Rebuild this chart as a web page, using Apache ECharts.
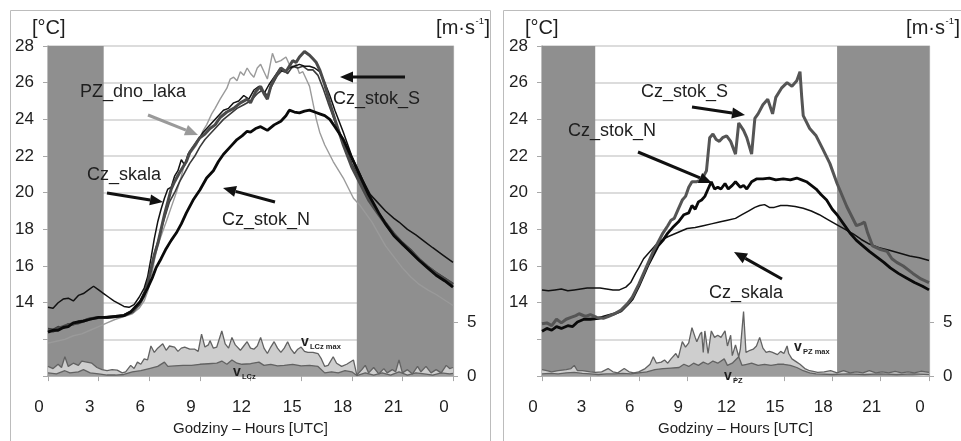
<!DOCTYPE html>
<html><head><meta charset="utf-8">
<script src="https://cdn.jsdelivr.net/npm/echarts@6/dist/echarts.min.js"></script>
<style>html,body{margin:0;padding:0;background:#fff}#c{width:961px;height:441px}</style>
</head><body><div id="c"></div>
<script>
// ---------- tick labels / categories ----------
const hourTickLabels = ['0','3','6','9','12','15','18','21','0'];
const tempTickLabels = ['14','16','18','20','22','24','26','28'];
const windTickValues = [0, 5];
const nightBands = [[0, 3.3], [18.3, 24]];

// ---------- LEFT PANEL: temperatures [hour, °C] ----------
const L_PZ_dno_laka = [[0,11.8],[0.5,11.9],[1,12.0],[1.5,12.2],[2,12.3],[2.5,12.5],[3,12.7],[3.5,12.9],[4,13.1],[4.5,13.25],[5,13.4],[5.4,13.7],[5.7,14.1],[5.9,14.6],[6.1,15.3],[6.3,16.3],[6.5,17.1],[6.8,17.9],[7.0,18.4],[7.3,19.2],[7.6,20.0],[7.9,20.9],[8.1,21.6],[8.4,22.1],[8.8,22.6],[9.0,23.0],[9.2,23.4],[9.4,23.7],[9.7,24.3],[9.9,24.6],[10.2,25.1],[10.6,25.7],[10.8,26.2],[11.0,26.3],[11.2,26.1],[11.4,26.6],[11.6,26.4],[11.8,26.8],[12.0,26.5],[12.2,26.3],[12.4,26.8],[12.6,27.0],[12.8,26.6],[13.0,26.2],[13.3,27.6],[13.5,27.1],[13.8,27.2],[14.1,27.4],[14.3,27.0],[14.5,26.8],[14.7,27.0],[14.9,26.5],[15.1,26.6],[15.3,26.2],[15.5,25.8],[15.7,24.9],[15.9,24.0],[16.1,23.3],[16.4,22.6],[16.9,21.7],[17.5,20.8],[18.1,19.7],[18.5,19.3],[19.2,18.4],[20.0,17.1],[20.5,16.5],[21.0,15.9],[21.5,15.4],[22.0,15.0],[22.5,14.7],[23.0,14.45],[23.5,14.15],[24.0,13.85]];
const L_Cz_skala = [[0,13.75],[0.3,13.7],[0.6,14.0],[0.9,14.2],[1.2,14.25],[1.5,14.1],[1.8,14.4],[2.1,14.5],[2.4,14.7],[2.7,14.9],[3.0,14.7],[3.3,14.5],[3.6,14.3],[3.9,14.1],[4.2,13.95],[4.5,13.8],[4.8,13.75],[5.1,13.9],[5.4,14.3],[5.7,14.8],[5.9,15.4],[6.1,16.4],[6.3,17.5],[6.5,18.4],[6.7,19.1],[6.9,19.7],[7.1,20.2],[7.3,20.3],[7.5,20.9],[7.7,21.2],[7.9,21.8],[8.1,21.5],[8.3,22.1],[8.6,22.5],[8.9,22.9],[9.2,23.3],[9.5,23.6],[9.8,23.9],[10.1,24.2],[10.4,24.5],[10.7,24.6],[11.0,24.9],[11.3,25.0],[11.6,25.3],[11.9,25.1],[12.2,25.6],[12.5,25.8],[12.8,25.4],[13.1,25.9],[13.4,26.3],[13.7,26.7],[14.0,26.6],[14.3,26.8],[14.6,26.9],[14.9,27.0],[15.2,26.9],[15.5,26.9],[15.8,26.8],[16.1,26.6],[16.4,26.0],[16.7,25.3],[17.0,24.5],[17.5,23.3],[18.0,22.0],[18.3,21.4],[18.7,20.6],[19.1,19.9],[19.5,19.5],[20.0,19.0],[20.5,18.6],[20.8,18.4],[21.3,18.0],[21.8,17.7],[22.3,17.35],[22.8,17.0],[23.4,16.6],[24.0,16.2]];
const L_Cz_stok_S = [[0,12.5],[0.3,12.45],[0.6,12.6],[0.9,12.7],[1.2,12.8],[1.5,12.85],[1.8,12.9],[2.1,13.0],[2.4,13.1],[2.7,13.15],[3.0,13.2],[3.5,13.2],[4.0,13.25],[4.5,13.3],[5.0,13.5],[5.4,13.9],[5.7,14.4],[5.9,15.0],[6.1,15.8],[6.3,16.6],[6.5,17.2],[6.7,18.0],[6.9,18.8],[7.1,19.5],[7.3,20.2],[7.5,20.6],[7.8,21.1],[8.0,21.4],[8.2,21.7],[8.4,22.2],[8.7,22.6],[9.0,23.0],[9.3,23.2],[9.6,23.5],[9.9,23.7],[10.2,24.1],[10.6,24.4],[11.0,24.6],[11.4,24.9],[11.8,25.1],[12.0,24.9],[12.3,25.5],[12.6,25.8],[12.8,25.4],[13.0,25.1],[13.2,25.8],[13.4,26.2],[13.6,26.5],[13.8,26.8],[14.1,26.6],[14.3,26.9],[14.5,27.2],[14.7,27.1],[14.9,27.4],[15.2,27.7],[15.5,27.5],[15.7,27.3],[15.9,27.1],[16.1,26.7],[16.4,25.9],[16.7,24.9],[17.0,24.0],[17.5,22.6],[18.0,21.4],[18.5,20.5],[19.0,19.6],[19.6,18.8],[20.0,18.3],[20.5,17.7],[21.0,17.2],[21.5,16.8],[22.0,16.35],[22.5,15.95],[23.0,15.6],[23.5,15.3],[24.0,15.0]];
const L_Cz_stok_N = [[0,12.4],[0.3,12.5],[0.6,12.5],[0.9,12.65],[1.2,12.7],[1.5,12.9],[1.8,12.95],[2.1,13.0],[2.5,13.1],[3.0,13.2],[3.5,13.2],[4.0,13.25],[4.5,13.3],[4.9,13.5],[5.2,13.8],[5.5,14.1],[5.9,14.8],[6.2,15.4],[6.4,15.9],[6.7,16.4],[7.0,16.95],[7.3,17.4],[7.6,17.8],[7.9,18.3],[8.2,18.9],[8.6,19.6],[9.0,20.15],[9.4,20.8],[9.8,21.2],[10.1,21.7],[10.4,22.1],[10.8,22.5],[11.2,22.9],[11.5,23.1],[11.8,23.35],[12.0,23.3],[12.3,23.5],[12.6,23.6],[13.0,23.4],[13.4,23.7],[13.8,23.9],[14.1,24.2],[14.3,24.5],[14.6,24.4],[14.9,24.35],[15.2,24.45],[15.5,24.5],[15.8,24.4],[16.1,24.3],[16.4,24.2],[16.7,24.0],[17.0,23.6],[17.5,22.9],[18.0,21.9],[18.5,20.9],[19.0,19.9],[19.6,18.9],[20.0,18.3],[20.5,17.65],[21.0,17.2],[21.5,16.75],[22.0,16.3],[22.5,15.9],[23.0,15.5],[23.5,15.2],[24.0,14.85]];
const L_other = [[0,12.6],[0.3,12.55],[0.6,12.7],[0.9,12.6],[1.2,12.85],[1.5,12.8],[1.8,13.0],[2.1,13.05],[2.5,13.15],[3.0,13.2],[3.5,13.25],[4.0,13.25],[4.5,13.35],[5.0,13.6],[5.4,14.0],[5.7,14.6],[6.0,15.5],[6.2,16.3],[6.4,17.0],[6.6,17.6],[6.8,18.3],[7.0,18.9],[7.2,19.5],[7.5,20.0],[7.8,20.6],[8.1,21.1],[8.4,21.6],[8.7,22.0],[9.0,22.5],[9.3,22.9],[9.6,23.2],[10.0,23.6],[10.4,24.0],[10.8,24.3],[11.2,24.6],[11.6,24.8],[12.0,25.0],[12.4,25.4],[12.7,25.6],[13.0,25.3],[13.3,25.9],[13.6,26.4],[13.9,26.7],[14.2,26.5],[14.5,26.9],[14.8,26.8],[15.1,26.9],[15.4,26.7],[15.7,26.7],[16.0,26.4],[16.3,25.7],[16.6,24.9],[17.0,23.9],[17.5,22.8],[18.0,21.6],[18.5,20.7],[19.0,19.8],[19.6,18.9],[20.0,18.4],[20.5,17.8],[21.0,17.3],[21.5,16.9],[22.0,16.4],[22.5,16.0],[23.0,15.65],[23.5,15.35],[24.0,15.05]];

// ---------- LEFT PANEL: wind [hour, m/s] ----------
const L_vLCz_max = [[0,0.9],[0.3,0.7],[0.6,1.1],[0.8,0.8],[1.0,1.8],[1.2,0.9],[1.5,1.2],[1.8,1.0],[2.0,1.4],[2.3,1.3],[2.6,1.2],[2.9,0.8],[3.2,0.6],[3.5,0.5],[3.8,0.6],[4.1,0.55],[4.4,0.3],[4.6,0.4],[4.9,1.0],[5.1,0.7],[5.3,1.3],[5.5,1.1],[5.7,1.6],[5.9,1.5],[6.1,2.8],[6.3,2.2],[6.5,2.6],[6.8,3.0],[7.0,2.4],[7.2,2.8],[7.5,2.7],[7.7,2.3],[7.9,2.6],[8.1,2.7],[8.4,2.5],[8.7,2.5],[8.9,2.3],[9.1,3.9],[9.3,2.7],[9.5,2.9],[9.6,3.3],[9.8,2.6],[10.0,2.7],[10.3,4.2],[10.5,3.0],[10.7,2.6],[10.9,3.6],[11.1,2.9],[11.4,2.4],[11.6,2.8],[11.8,3.2],[12.0,2.6],[12.2,2.5],[12.4,2.8],[12.6,3.6],[12.8,2.6],[13.0,2.1],[13.2,2.7],[13.4,3.2],[13.6,2.6],[13.8,2.2],[14.0,2.6],[14.2,3.2],[14.4,2.5],[14.6,2.1],[14.8,2.5],[15.0,2.7],[15.2,2.3],[15.4,2.2],[15.7,2.2],[16.0,2.1],[16.2,1.6],[16.4,0.9],[16.6,1.0],[16.9,1.8],[17.1,1.2],[17.4,0.9],[17.7,1.1],[18.1,1.5],[18.3,0.1],[18.6,0.6],[18.8,1.0],[19.0,0.3],[19.3,0.8],[19.6,0.2],[19.9,0.7],[20.1,0.3],[20.4,0.6],[20.6,0.4],[20.8,1.5],[21.0,0.3],[21.3,0.6],[21.6,0.2],[21.9,0.9],[22.1,0.4],[22.4,0.9],[22.7,0.3],[23.0,0.6],[23.3,0.3],[23.6,1.0],[23.8,0.7],[24.0,0.8]];
const L_vLCz = [[0,0.3],[0.5,0.2],[1.0,0.5],[1.3,0.3],[1.8,0.4],[2.1,0.6],[2.5,0.3],[3.0,0.2],[3.5,0.1],[4.0,0.1],[4.5,0.15],[5.0,0.4],[5.5,0.5],[6.0,0.7],[6.5,0.9],[6.9,1.3],[7.1,0.9],[7.5,0.95],[8.0,1.0],[8.5,1.0],[9.0,1.1],[9.5,1.15],[10.0,1.2],[10.3,1.4],[10.6,1.1],[10.9,1.5],[11.2,1.2],[11.5,1.1],[12.0,1.15],[12.5,1.3],[12.8,1.0],[13.2,1.1],[13.6,0.95],[14.0,1.0],[14.5,1.1],[15.0,0.95],[15.5,1.0],[16.0,0.9],[16.4,0.3],[16.8,0.4],[17.2,0.3],[17.6,0.5],[18.0,0.4],[18.3,0.05],[18.8,0.3],[19.3,0.1],[19.8,0.3],[20.3,0.1],[20.8,0.4],[21.3,0.1],[21.8,0.3],[22.3,0.2],[22.8,0.1],[23.3,0.3],[23.8,0.2],[24.0,0.25]];

// ---------- RIGHT PANEL: temperatures ----------
const R_Cz_skala = [[0,14.7],[0.4,14.65],[0.8,14.7],[1.2,14.75],[1.6,14.65],[2.0,14.7],[2.4,14.75],[2.8,14.8],[3.2,14.8],[3.6,14.8],[4.0,14.75],[4.4,14.7],[4.8,14.7],[5.2,14.85],[5.5,15.1],[5.8,15.6],[6.0,15.9],[6.3,16.4],[6.6,16.7],[7.0,17.1],[7.4,17.4],[7.8,17.6],[8.2,17.75],[8.6,17.9],[9.0,18.05],[9.5,18.1],[10.0,18.2],[10.5,18.3],[11.0,18.4],[11.5,18.5],[12.0,18.6],[12.4,18.8],[12.8,19.0],[13.2,19.2],[13.5,19.3],[13.8,19.35],[14.1,19.2],[14.4,19.2],[14.8,19.3],[15.2,19.3],[15.7,19.25],[16.2,19.15],[16.7,19.0],[17.2,18.8],[17.7,18.55],[18.3,18.25],[18.8,18.0],[19.3,17.75],[19.8,17.45],[20.3,17.2],[20.9,17.0],[21.6,16.85],[22.2,16.7],[22.8,16.55],[23.4,16.45],[24.0,16.3]];
const R_Cz_stok_N = [[0,12.45],[0.3,12.6],[0.6,12.5],[0.9,12.7],[1.2,12.6],[1.6,12.75],[1.9,12.7],[2.2,12.95],[2.6,13.1],[3.0,13.1],[3.5,13.15],[4.1,13.3],[4.5,13.4],[4.9,13.55],[5.3,13.9],[5.6,14.2],[6.0,14.9],[6.3,15.5],[6.6,16.1],[6.9,16.6],[7.2,17.1],[7.5,17.4],[7.8,17.8],[8.1,18.1],[8.45,18.4],[8.8,18.8],[9.1,18.9],[9.3,19.3],[9.5,19.1],[9.7,19.5],[9.9,19.6],[10.1,19.8],[10.3,20.2],[10.5,20.6],[10.7,20.2],[10.9,20.3],[11.1,20.2],[11.35,20.5],[11.55,20.2],[11.8,20.4],[12.0,20.6],[12.3,20.3],[12.5,20.4],[12.7,20.2],[13.0,20.6],[13.3,20.75],[13.7,20.75],[14.1,20.8],[14.5,20.7],[14.96,20.75],[15.4,20.7],[15.8,20.8],[16.1,20.7],[16.4,20.6],[16.7,20.4],[17.0,20.2],[17.3,19.9],[17.65,19.6],[18.0,19.1],[18.3,18.8],[18.7,18.3],[19.1,17.8],[19.5,17.4],[19.9,17.1],[20.3,16.8],[20.75,16.5],[21.2,16.2],[21.6,15.9],[22.1,15.6],[22.6,15.35],[23.1,15.1],[23.6,14.9],[24.0,14.7]];
const R_Cz_stok_S = [[0,12.85],[0.3,12.9],[0.6,12.75],[0.9,13.1],[1.2,12.9],[1.5,13.1],[1.8,13.2],[2.1,13.3],[2.3,13.4],[2.7,13.25],[3.0,13.35],[3.4,13.2],[3.8,13.15],[4.1,13.25],[4.5,13.4],[4.9,13.6],[5.3,13.95],[5.6,14.3],[6.0,15.0],[6.3,15.6],[6.6,16.2],[6.9,16.8],[7.2,17.3],[7.5,17.8],[7.8,18.2],[8.0,18.5],[8.2,18.6],[8.45,19.1],[8.7,19.6],[8.9,19.8],[9.1,20.3],[9.3,20.6],[9.6,20.6],[9.9,20.7],[10.2,21.2],[10.4,23.0],[10.6,23.2],[10.8,22.9],[11.0,22.8],[11.2,23.0],[11.45,23.1],[11.7,22.8],[12.0,22.1],[12.2,23.8],[12.5,23.4],[12.7,23.0],[13.0,22.1],[13.2,24.05],[13.4,24.3],[13.7,24.8],[14.0,25.1],[14.3,24.3],[14.5,25.2],[14.85,25.7],[15.2,26.0],[15.5,25.8],[15.8,26.1],[16.0,26.6],[16.1,25.3],[16.2,24.2],[16.6,23.5],[17.0,23.1],[17.4,22.4],[17.85,21.6],[18.3,20.5],[18.9,19.25],[19.5,18.2],[19.8,18.3],[20.0,18.4],[20.2,17.8],[20.5,17.1],[21.0,16.9],[21.4,16.8],[21.7,16.4],[22.0,16.2],[22.4,16.0],[23.0,15.6],[23.5,15.3],[24.0,15.1]];

// ---------- RIGHT PANEL: wind ----------
const R_vPZ_max = [[0,0.6],[0.3,0.5],[0.6,0.4],[1.0,0.5],[1.5,0.6],[1.8,0.7],[2.0,1.0],[2.2,0.5],[2.5,0.5],[3.0,0.4],[3.3,0.35],[3.7,0.4],[4.1,0.7],[4.4,0.4],[4.7,0.3],[5.1,0.7],[5.4,0.4],[5.7,0.3],[6.0,0.4],[6.4,0.7],[6.7,1.1],[6.9,1.8],[7.1,1.2],[7.4,1.3],[7.6,1.5],[7.8,1.2],[8.0,1.6],[8.3,2.1],[8.45,1.7],[8.7,3.2],[8.9,2.7],[9.1,3.1],[9.3,4.5],[9.5,3.6],[9.6,3.2],[9.8,3.9],[9.9,4.1],[10.0,2.2],[10.1,4.2],[10.3,2.1],[10.5,4.2],[10.7,3.6],[10.9,3.8],[11.1,3.6],[11.35,4.2],[11.5,2.8],[11.7,3.8],[11.8,1.9],[12.0,2.9],[12.2,1.8],[12.3,2.5],[12.5,6.0],[12.65,2.2],[12.9,2.4],[13.1,2.5],[13.3,2.8],[13.5,3.6],[13.7,2.6],[13.9,2.2],[14.1,2.3],[14.3,2.2],[14.6,2.0],[14.8,2.3],[15.0,2.1],[15.2,2.8],[15.3,2.1],[15.5,1.6],[15.8,1.3],[16.0,1.1],[16.3,0.7],[16.6,0.5],[17.1,0.35],[17.5,0.4],[17.9,0.5],[18.3,0.3],[18.7,0.5],[19.1,0.3],[19.5,0.4],[19.9,0.3],[20.3,0.5],[20.7,0.3],[21.1,0.4],[21.5,0.3],[21.9,0.45],[22.3,0.3],[22.7,0.4],[23.1,0.3],[23.5,0.45],[24.0,0.35]];
const R_vPZ = [[0,0.2],[0.5,0.25],[1.0,0.2],[1.5,0.3],[2.0,0.35],[2.5,0.25],[3.0,0.2],[3.5,0.15],[4.0,0.2],[4.5,0.2],[5.0,0.25],[5.5,0.2],[6.0,0.3],[6.5,0.4],[7.0,0.6],[7.5,0.7],[8.0,0.75],[8.5,0.8],[8.8,1.1],[9.1,0.9],[9.4,1.2],[9.7,1.0],[10.0,1.3],[10.3,1.1],[10.6,1.4],[10.9,1.2],[11.3,1.6],[11.5,1.0],[11.8,1.2],[12.2,1.8],[12.4,1.0],[12.7,1.1],[13.0,1.2],[13.4,1.0],[13.8,1.1],[14.2,1.0],[14.6,1.1],[15.0,1.1],[15.4,1.0],[15.8,0.8],[16.2,0.5],[16.6,0.3],[17.0,0.2],[18.0,0.15],[19.0,0.2],[20.0,0.15],[21.0,0.2],[22.0,0.15],[23.0,0.2],[24.0,0.15]];

// ---------- chart ----------
const FONT = '"Liberation Sans", Arial, sans-serif';
const TXT = '#1e1e1e';
const AX = '#a8a8a8';

function xAxisCfg(gi) {
  return {
    type: 'value', gridIndex: gi, min: 0, max: 24, interval: 3,
    axisLine: { show: true, lineStyle: { color: AX, width: 1.5 } },
    axisTick: { show: true, length: 5, lineStyle: { color: AX } },
    splitLine: { show: false },
    axisLabel: { color: TXT, fontSize: 17, fontFamily: FONT, margin: 23, padding: [0, 18, 0, 0],
      formatter: v => hourTickLabels[Math.round(v / 3)] },
    name: 'Godziny – Hours [UTC]', nameLocation: 'middle', nameGap: 42,
    nameTextStyle: { color: TXT, fontSize: 15, fontFamily: FONT }
  };
}
function tempAxisCfg(gi) {
  return {
    type: 'value', gridIndex: gi, min: 10, max: 28, interval: 2,
    axisLine: { show: true, lineStyle: { color: AX, width: 1.5 } },
    axisTick: { show: true, length: 5, lineStyle: { color: AX } },
    splitLine: { show: true, lineStyle: { color: '#d0d0d0', width: 1.5 } },
    axisLabel: { color: TXT, fontSize: 17, fontFamily: FONT, margin: 14,
      formatter: v => tempTickLabels.indexOf(String(v)) >= 0 ? String(v) : '' }
  };
}
function windAxisCfg(gi) {
  return {
    type: 'value', gridIndex: gi, position: 'right', min: 0, max: 30.7,
    axisLine: { show: true, lineStyle: { color: AX, width: 1.2 } },
    axisTick: { show: true, length: 5, customValues: windTickValues, lineStyle: { color: AX } },
    splitLine: { show: false },
    axisLabel: { color: TXT, fontSize: 17, fontFamily: FONT, margin: 14, customValues: windTickValues }
  };
}
function bands(xi, yi) {
  return { type: 'line', xAxisIndex: xi, yAxisIndex: yi, data: [], silent: true,
    markArea: { silent: true, itemStyle: { color: '#8f8f8f' },
      data: nightBands.map(b => [{ xAxis: b[0] }, { xAxis: b[1] }]) } };
}
function area(xi, yi, data, fill) {
  return { type: 'line', xAxisIndex: xi, yAxisIndex: yi, data, symbol: 'none', silent: true,
    lineStyle: { color: '#626262', width: 1.3 }, areaStyle: { color: fill, opacity: 1 } };
}
function line(xi, yi, data, color, width) {
  return { type: 'line', xAxisIndex: xi, yAxisIndex: yi, data, symbol: 'none', silent: true,
    lineStyle: { color, width } };
}

function arrow(x1, y1, x2, y2, color, w) {
  const a = Math.atan2(y2 - y1, x2 - x1), L = 13, W = 5.5;
  const bx = x2 - L * Math.cos(a), by = y2 - L * Math.sin(a);
  const px = -Math.sin(a) * W, py = Math.cos(a) * W;
  return [
    { type: 'line', z: 100, shape: { x1, y1, x2: bx, y2: by }, style: { stroke: color, lineWidth: w } },
    { type: 'polygon', z: 100, shape: { points: [[x2, y2], [bx + px, by + py], [bx - px, by - py]] }, style: { fill: color } }
  ];
}
function txt(text, x, y, size, opts) {
  return Object.assign({ type: 'text', z: 100, x, y,
    style: Object.assign({ text, fontSize: size, fontFamily: FONT, fill: TXT, align: 'left', verticalAlign: 'middle' }, opts || {}) });
}
function windLabel(x, y, sub) {
  return [
    txt('v', x, y, 14, { fontWeight: 'bold', align: 'center' }),
    txt(sub, x + 5, y + 5, 7.5, { fontWeight: 'bold' })
  ];
}
function units(xLeftC, xRight) {
  return [
    txt('[°C]', xLeftC, 28, 20),
    txt(']', xRight, 28, 20, { align: 'right' }),
    txt('-1', xRight - 6, 21, 9.5, { align: 'right' }),
    txt('[m·s', xRight - 15, 28, 20, { align: 'right' })
  ];
}

const graphics = [
  { type: 'rect', z: 0, shape: { x: 10.5, y: 10.5, width: 480, height: 500 }, style: { fill: 'none', stroke: '#bcbcbc', lineWidth: 1 } },
  { type: 'rect', z: 0, shape: { x: 503.5, y: 10.5, width: 500, height: 500 }, style: { fill: 'none', stroke: '#bcbcbc', lineWidth: 1 } },
  ...units(32, 490),
  ...units(525, 960),
  // left annotations
  txt('PZ_dno_laka', 80, 92, 18),
  ...arrow(148, 115, 198, 135, '#9a9a9a', 3),
  txt('Cz_skala', 87, 175, 18),
  ...arrow(107, 193, 163, 202, '#111', 3),
  txt('Cz_stok_N', 222, 220, 18),
  ...arrow(275, 202, 223, 188, '#111', 3),
  txt('Cz_stok_S', 333, 99, 18),
  ...arrow(405, 77, 340, 77, '#111', 3),
  ...windLabel(305, 342, 'LCz max'),
  ...windLabel(237, 372, 'LCz'),
  // right annotations
  txt('Cz_stok_S', 641, 92, 18),
  ...arrow(692, 107, 745, 115, '#111', 3),
  txt('Cz_stok_N', 568, 131, 18),
  ...arrow(638, 152, 712, 183, '#111', 3),
  txt('Cz_skala', 709, 293, 18),
  ...arrow(782, 279, 734, 252, '#111', 3),
  ...windLabel(798, 347, 'PZ max'),
  ...windLabel(728, 376, 'PZ')
];

const option = {
  animation: false,
  backgroundColor: '#fff',
  grid: [
    { left: 48, top: 46, width: 405, height: 337 },
    { left: 542, top: 46, width: 387, height: 337 }
  ],
  xAxis: [xAxisCfg(0), xAxisCfg(1)],
  yAxis: [tempAxisCfg(0), windAxisCfg(0), tempAxisCfg(1), windAxisCfg(1)],
  series: [
    bands(0, 0),
    area(0, 1, L_vLCz_max, '#cecece'),
    area(0, 1, L_vLCz, '#9c9c9c'),
    line(0, 0, L_PZ_dno_laka, '#9a9a9a', 1.4),
    line(0, 0, L_other, '#3a3a3a', 1.6),
    line(0, 0, L_Cz_skala, '#111', 1.5),
    line(0, 0, L_Cz_stok_S, '#4a4a4a', 3),
    line(0, 0, L_Cz_stok_N, '#0a0a0a', 2.8),

    bands(1, 2),
    area(1, 3, R_vPZ_max, '#cecece'),
    area(1, 3, R_vPZ, '#9c9c9c'),
    line(1, 2, R_Cz_skala, '#111', 1.5),
    line(1, 2, R_Cz_stok_N, '#0a0a0a', 2.8),
    line(1, 2, R_Cz_stok_S, '#555', 3)
  ],
  graphic: graphics
};
const chart = echarts.init(document.getElementById('c'));
chart.setOption(option);
</script>
</body></html>
